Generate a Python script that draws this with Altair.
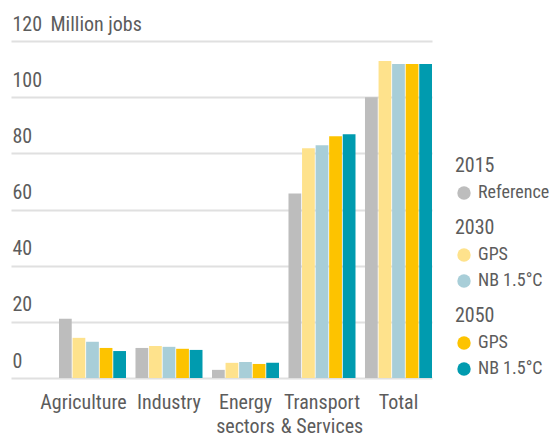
import altair as alt
import pandas as pd

categories = ["Agriculture", "Industry", "Energy sectors", "Transport & Services", "Total"]
series_keys = ["2015 Reference", "2030 GPS", "2030 NB 1.5°C", "2050 GPS", "2050 NB 1.5°C"]
series_years = ["2015", "2030", "2030", "2050", "2050"]
series_labels = ["Reference", "GPS", "NB 1.5°C", "GPS", "NB 1.5°C"]
series_colors = ["#bdbdbd", "#fee28c", "#a8ced8", "#fdc300", "#009baf"]

ref_2015 = [21.1, 10.7, 2.9, 65.7, 100.0]
gps_2030 = [14.3, 11.4, 5.4, 81.8, 112.9]
nb_2030 = [12.9, 11.1, 5.7, 82.9, 111.8]
gps_2050 = [10.7, 10.4, 5.0, 86.1, 111.8]
nb_2050 = [9.6, 10.0, 5.4, 86.8, 111.8]
values = [ref_2015, gps_2030, nb_2030, gps_2050, nb_2050]

rows = []
for key, yr, lab, vals in zip(series_keys, series_years, series_labels, values):
    for cat, v in zip(categories, vals):
        rows.append({"category": cat, "key": key, "year": yr, "label": lab, "value": v})
df = pd.DataFrame(rows)

FONT = "Roboto Condensed, DejaVu Sans Condensed, sans-serif"
TXT = "#5c5c5c"
FS = 20

label_expr = ("datum.label == 'Energy sectors' ? ['Energy', 'sectors'] : "
              "datum.label == 'Transport & Services' ? ['Transport', '& Services'] : datum.label")

base = alt.Chart(df).mark_bar().encode(
    x=alt.X("category:N", sort=categories,
            scale=alt.Scale(paddingInner=0.124, paddingOuter=0.3136, align=1),
            axis=alt.Axis(title=None, labelAngle=0, domain=False, ticks=False, tickSize=0,
                          labelPadding=14, labelFontSize=FS, labelFont=FONT, labelColor=TXT,
                          labelExpr=label_expr, labelLineHeight=24, labelLimit=200,
                          labelBaseline="top",
                          labelOffset={"condition": {"test": "datum.value === 'Agriculture'", "value": -9}, "value": 0})),
    xOffset=alt.XOffset("key:N", sort=series_keys,
                        scale=alt.Scale(domain=series_keys, paddingInner=0.06, paddingOuter=0)),
    y=alt.Y("value:Q", scale=alt.Scale(domain=[0, 120], nice=False),
            axis=alt.Axis(values=[0, 20, 40, 60, 80, 100, 120], domain=False, ticks=False, tickSize=0,
                          labelAlign="left", labelPadding=-1, labelBaseline="alphabetic",
                          labelOffset=-11, labelFontSize=FS, labelFont=FONT, labelColor=TXT,
                          gridColor="#e0e0e0", gridWidth=2,
                          title="Million jobs", titleAngle=0, titleX=39, titleY=-11,
                          titleAlign="left", titleBaseline="alphabetic", titleFontWeight="normal",
                          titleFontSize=FS, titleFont=FONT, titleColor=TXT)),
)

legend_pos = {"2015": 115, "2030": 177, "2050": 265}
layers = []
for yr in ["2015", "2030", "2050"]:
    idx = [i for i, y in enumerate(series_years) if y == yr]
    dom = [series_labels[i] for i in idx]
    rng = [series_colors[i] for i in idx]
    layers.append(
        base.transform_filter(alt.datum.year == yr).encode(
            color=alt.Color("label:N", sort=dom,
                            scale=alt.Scale(domain=dom, range=rng),
                            legend=alt.Legend(title=yr, orient="none", legendX=444,
                                              legendY=legend_pos[yr]))
        )
    )

chart = alt.layer(*layers).resolve_scale(color="independent").properties(
    width=421, height=337,
    autosize=alt.AutoSizeParams(type="none"),
    padding={"left": 3, "top": 33, "right": 120, "bottom": 64},
).configure_view(stroke=None).configure_legend(
    symbolType="circle", symbolSize=180, symbolStrokeWidth=0,
    labelFontSize=18, labelFont=FONT, labelColor=TXT, labelOffset=5,
    titleFontSize=FS, titleFont=FONT, titleColor=TXT, titleFontWeight="normal",
    titlePadding=8, rowPadding=8, padding=0, labelLimit=200,
)

chart.save("out.html", embed_options={"renderer": "svg", "actions": False})
